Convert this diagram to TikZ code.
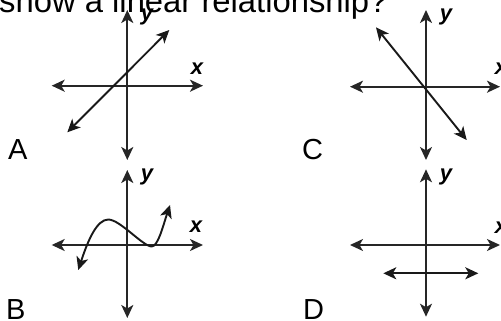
\documentclass[tikz,border=0pt]{standalone}
\usepackage{fontspec}
\setmainfont{Liberation Sans}
\usetikzlibrary{arrows.meta}
\tikzset{
  tip/.tip={Stealth[length=13pt,width=12pt,inset=3.5pt]},
  axisline/.style={line width=1.9pt, draw=black!85, {tip}-{tip}},
  graphline/.style={line width=1.9pt, draw=black!90, {tip}-{tip}},
  axlabel/.style={font=\fontsize{22}{22}\selectfont\bfseries\itshape, inner sep=0pt},
  letter/.style={font=\fontsize{29}{29}\selectfont, anchor=base west, inner sep=0pt},
  titletext/.style={font=\fontsize{32.8}{33}\selectfont, anchor=base west, inner sep=0pt}
}
\begin{document}
\begin{tikzpicture}[x=1pt,y=-1pt]
\useasboundingbox (0,0) rectangle (501,321);
\clip (0,0) rectangle (501,321);
% title (cut at top)
\node[titletext] (title) at (-1,12.5) {show a linear relationship?};
% ---------- Graph A ----------
\coordinate (Aup) at (127.3,10);
\coordinate (Adown) at (127.3,160);
\coordinate (Aleft) at (51.7,85.7);
\coordinate (Aright) at (203,85.7);
\coordinate (Ald) at (67.3,132.3);
\coordinate (Aru) at (169.3,30);
\draw[axisline] (Adown) -- (Aup);
\draw[axisline] (Aleft) -- (Aright);
\draw[graphline] (Ald) -- (Aru);
\node[axlabel] (Ay) at (147,17) {y};
\node[axlabel] (Ax) at (197,69) {x};
\node[letter] (LA) at (8,159) {A};
% ---------- Graph C ----------
\coordinate (Cup) at (426,10);
\coordinate (Cdown) at (426,160);
\coordinate (Cleft) at (350,86.7);
\coordinate (Cright) at (500,86.7);
\coordinate (Clu) at (376,27.3);
\coordinate (Crd) at (466.7,140);
\draw[axisline] (Cdown) -- (Cup);
\draw[axisline] (Cleft) -- (Cright);
\draw[graphline] (Clu) -- (Crd);
\node[axlabel] (Cy) at (446,17) {y};
\node[axlabel] (Cx) at (501,69) {x};
\node[letter] (LC) at (302,159) {C};
% ---------- Graph B ----------
\coordinate (Bup) at (127.3,170);
\coordinate (Bdown) at (127.3,318);
\coordinate (Bleft) at (51.7,245);
\coordinate (Bright) at (203,245);
\coordinate (Bs) at (78.3,270);
\coordinate (Bmax) at (108.3,219.5);
\coordinate (Bmin) at (151.7,246.5);
\coordinate (Be) at (170,205);
\draw[axisline] (Bdown) -- (Bup);
\draw[axisline] (Bleft) -- (Bright);
\draw[graphline] (Bs) .. controls (88,240) and (97,219.5) .. (Bmax)
   .. controls (120,219.5) and (143,246.5) .. (Bmin)
   .. controls (158,246.5) and (163,226) .. (Be);
\node[axlabel] (By) at (147,177) {y};
\node[axlabel] (Bx) at (196,227) {x};
\node[letter] (LB) at (6,319) {B};
% ---------- Graph D ----------
\coordinate (Dup) at (426,169.3);
\coordinate (Ddown) at (426,316.7);
\coordinate (Dleft) at (350,245);
\coordinate (Dright) at (500,245);
\coordinate (Dl) at (383.3,273.3);
\coordinate (Dr) at (478.3,273.3);
\draw[axisline] (Ddown) -- (Dup);
\draw[axisline] (Dleft) -- (Dright);
\draw[graphline] (Dl) -- (Dr);
\node[axlabel] (Dy) at (446,177) {y};
\node[axlabel] (Dx) at (501,228) {x};
\node[letter] (LD) at (303,319) {D};
\end{tikzpicture}
\end{document}
